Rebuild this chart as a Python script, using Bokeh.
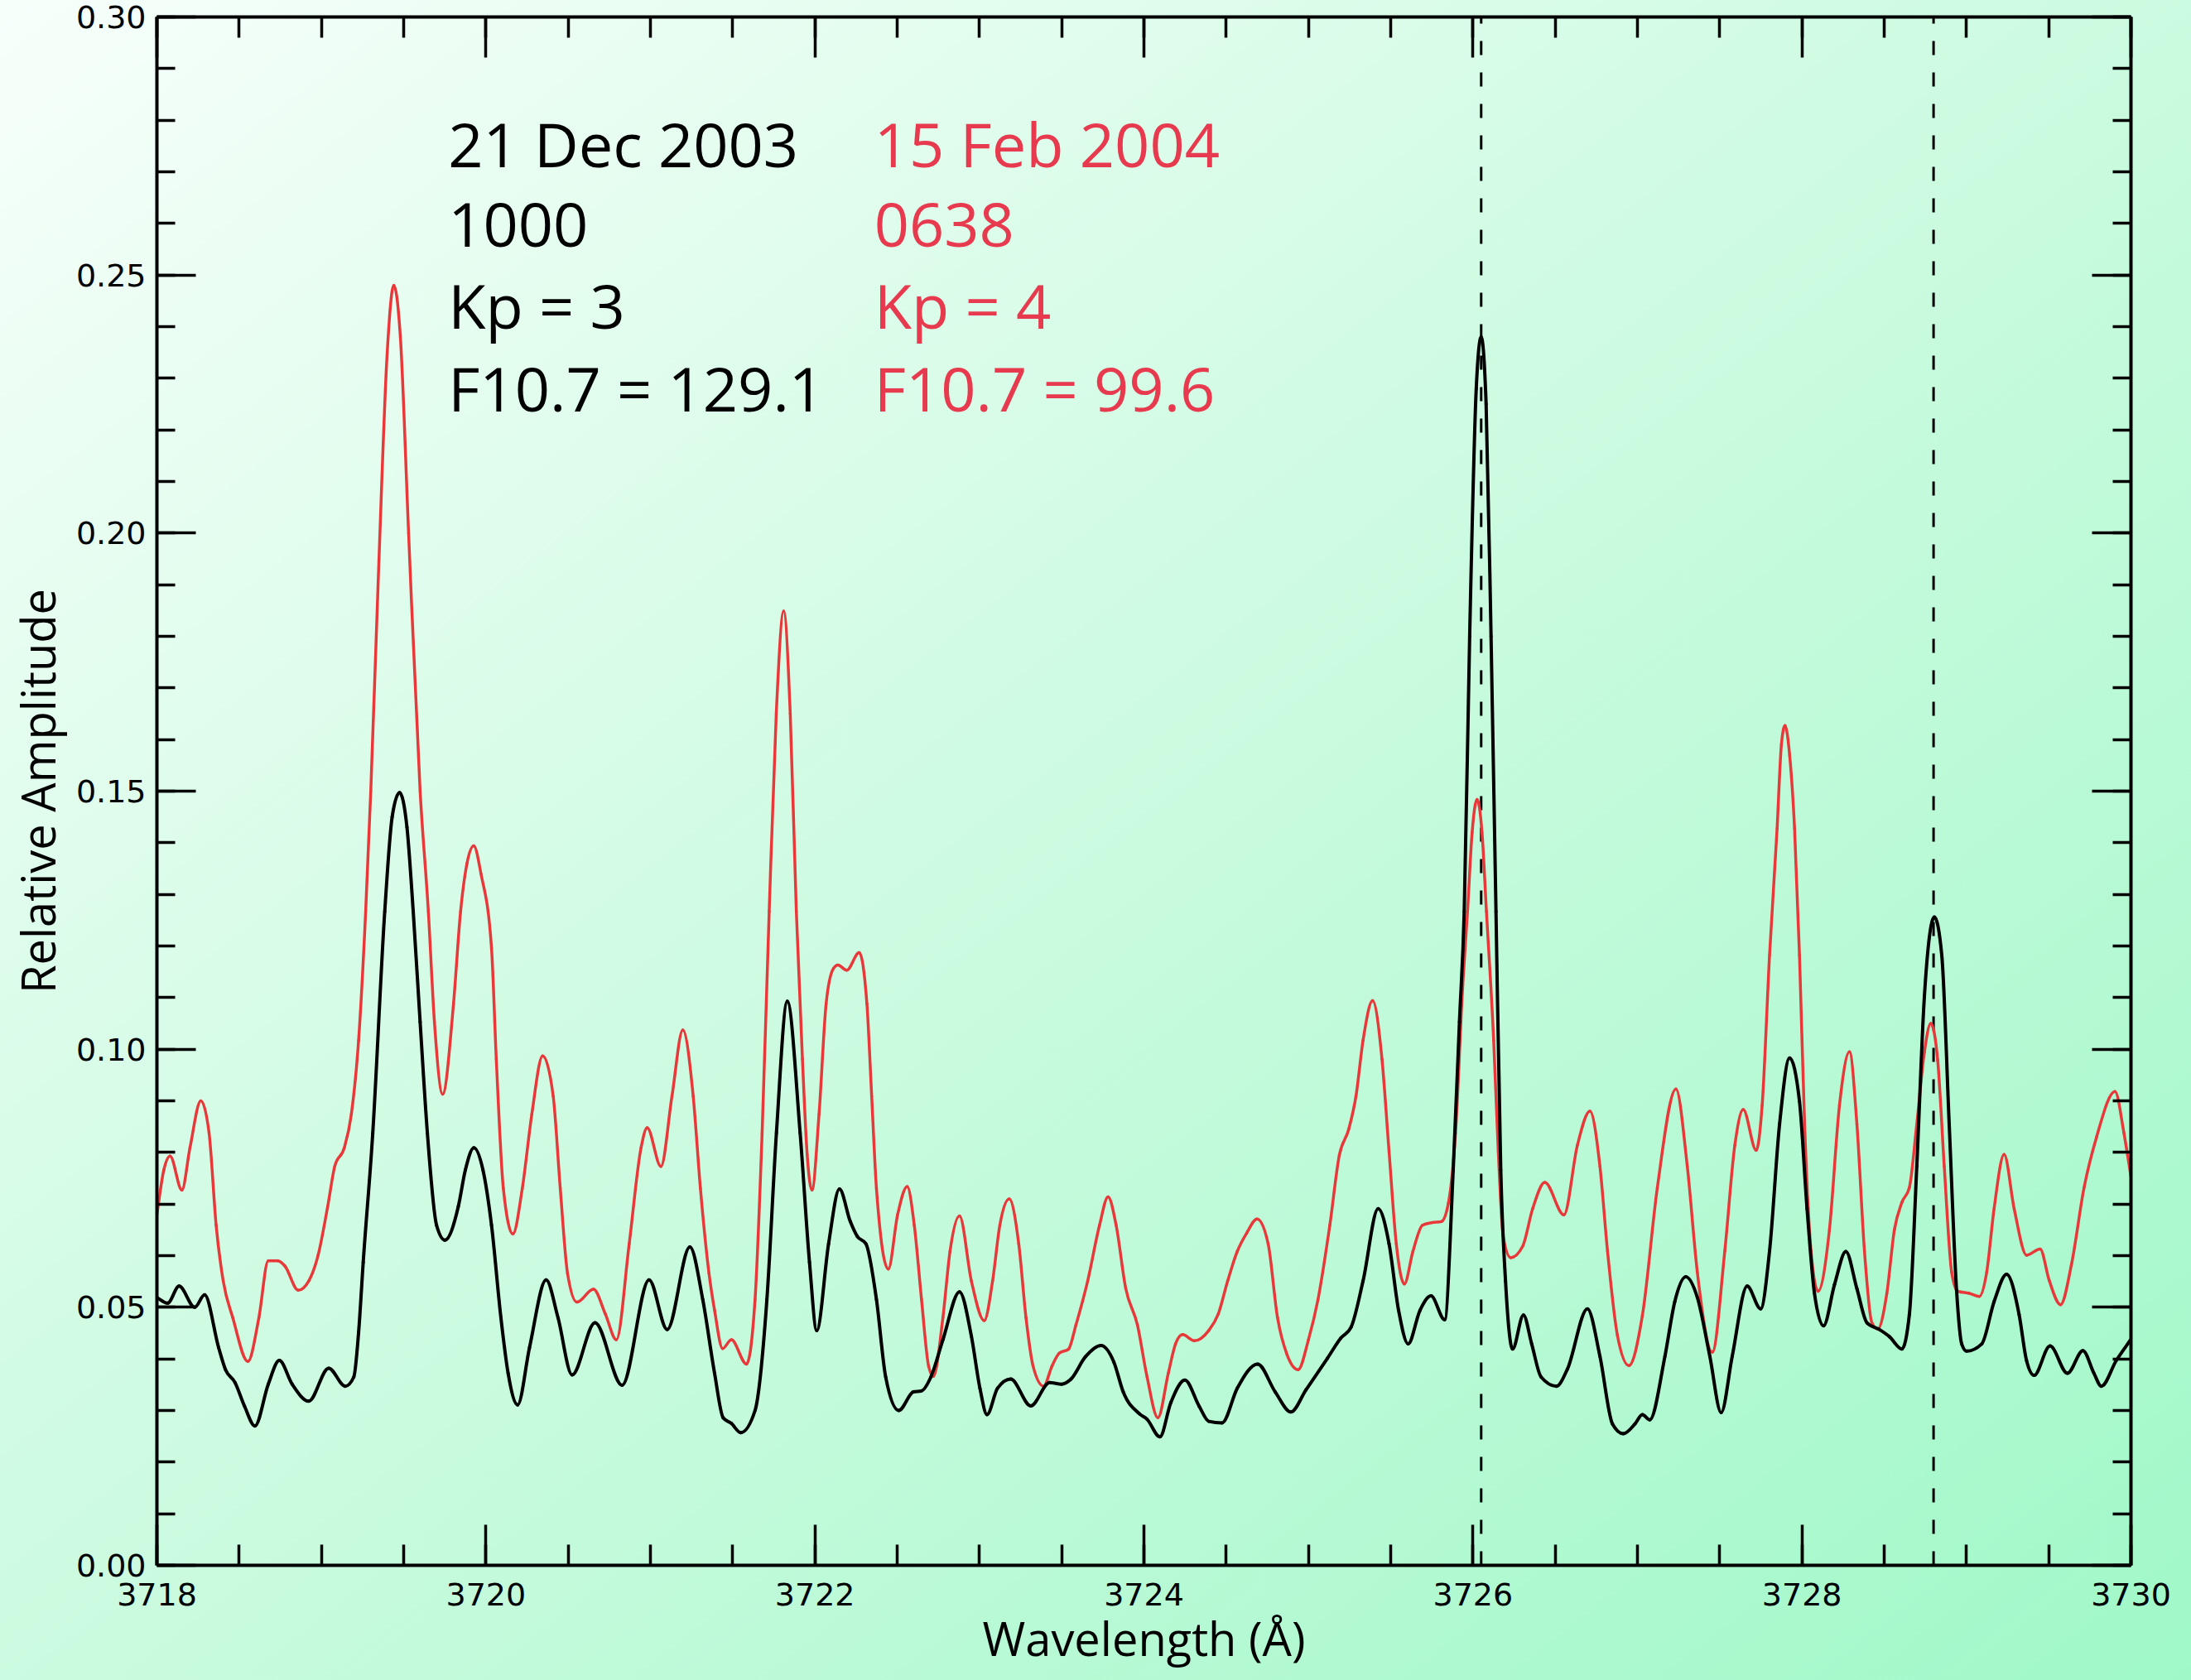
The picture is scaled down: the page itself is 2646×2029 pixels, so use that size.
from bokeh.plotting import figure
from bokeh.models import LinearAxis, Label, PrintfTickFormatter, Range1d, FixedTicker
from bokeh.embed import file_html
from bokeh.resources import INLINE

# ---------------- data ----------------
black_wl = [3718.000, 3718.065, 3718.135, 3718.230, 3718.290, 3718.375, 3718.417, 3718.475, 3718.533, 3718.596,
            3718.677, 3718.744, 3718.822, 3718.923, 3719.044, 3719.145, 3719.197, 3719.226, 3719.254, 3719.312,
            3719.385, 3719.430, 3719.475, 3719.520, 3719.558, 3719.600, 3719.644, 3719.700,
            3719.751, 3719.832, 3719.875, 3719.927, 3719.982, 3720.034, 3720.091, 3720.135, 3720.193, 3720.265,
            3720.366, 3720.438, 3720.524, 3720.663, 3720.828, 3720.992, 3721.102, 3721.240, 3721.318, 3721.390,
            3721.442, 3721.492, 3721.549, 3721.636, 3721.708, 3721.766, 3721.832, 3721.910,
            3721.967, 3722.011, 3722.083, 3722.149, 3722.215, 3722.258, 3722.310, 3722.374, 3722.430, 3722.509,
            3722.599, 3722.648, 3722.705, 3722.778, 3722.879, 3722.951, 3723.003, 3723.046, 3723.110, 3723.190,
            3723.312, 3723.427, 3723.499, 3723.557, 3723.644, 3723.739, 3723.817, 3723.874, 3723.975, 3724.019,
            3724.097, 3724.163, 3724.249, 3724.336, 3724.394, 3724.475, 3724.567, 3724.691, 3724.798, 3724.893,
            3724.985, 3725.115, 3725.196, 3725.260, 3725.332, 3725.424, 3725.490, 3725.548, 3725.606, 3725.678,
            3725.745, 3725.828, 3725.880, 3725.918, 3725.947, 3725.980, 3726.020, 3726.050, 3726.080, 3726.110,
            3726.140, 3726.169, 3726.198, 3726.241, 3726.307, 3726.357, 3726.414, 3726.508, 3726.574, 3726.696,
            3726.772, 3726.848, 3726.914, 3726.985, 3727.030, 3727.075, 3727.167, 3727.227, 3727.294, 3727.364,
            3727.440, 3727.509, 3727.576, 3727.667, 3727.749, 3727.803, 3727.864, 3727.925, 3727.985, 3728.031,
            3728.076, 3728.131, 3728.198, 3728.267, 3728.334, 3728.395, 3728.470, 3728.532, 3728.607, 3728.653,
            3728.698, 3728.744, 3728.805, 3728.850, 3728.895, 3728.940, 3728.971, 3729.001, 3729.093,
            3729.168, 3729.244, 3729.320, 3729.365, 3729.411, 3729.508, 3729.614, 3729.708, 3729.775, 3729.820,
            3729.911, 3730.000]
black_amp = [0.0519, 0.0508, 0.0541, 0.0500, 0.0524, 0.0422, 0.0379, 0.0354, 0.0308, 0.0270,
             0.0351, 0.0397, 0.0351, 0.0318, 0.0382, 0.0347, 0.0365, 0.0451, 0.0587, 0.0837,
             0.1267, 0.1450, 0.1497, 0.1430, 0.1267, 0.1053, 0.0838, 0.0659,
             0.0630, 0.0695, 0.0766, 0.0809, 0.0766, 0.0659, 0.0480, 0.0372, 0.0311, 0.0422,
             0.0553, 0.0480, 0.0369, 0.0470, 0.0349, 0.0553, 0.0457, 0.0617, 0.0515, 0.0372,
             0.0286, 0.0275, 0.0257, 0.0300, 0.0515, 0.0838, 0.1093, 0.0838,
             0.0587, 0.0455, 0.0623, 0.0729, 0.0666, 0.0637, 0.0623, 0.0515, 0.0365, 0.0300,
             0.0336, 0.0338, 0.0365, 0.0437, 0.0530, 0.0444, 0.0343, 0.0292, 0.0343, 0.0361,
             0.0309, 0.0354, 0.0351, 0.0361, 0.0404, 0.0426, 0.0394, 0.0336, 0.0293, 0.0283,
             0.0249, 0.0315, 0.0359, 0.0308, 0.0279, 0.0276, 0.0343, 0.0390, 0.0336, 0.0297,
             0.0340, 0.0401, 0.0440, 0.0462, 0.0551, 0.0691, 0.0623, 0.0494, 0.0429, 0.0494,
             0.0522, 0.0476, 0.0766, 0.1053, 0.1267, 0.1800, 0.2280, 0.2380, 0.2250, 0.1800,
             0.1267, 0.0766, 0.0551, 0.0419, 0.0485, 0.0429, 0.0365, 0.0347, 0.0380, 0.0497,
             0.0405, 0.0274, 0.0255, 0.0274, 0.0292, 0.0282, 0.0405, 0.0511, 0.0559, 0.0519,
             0.0405, 0.0296, 0.0405, 0.0541, 0.0497, 0.0609, 0.0855, 0.0983, 0.0899, 0.0691,
             0.0527, 0.0464, 0.0544, 0.0608, 0.0536, 0.0470, 0.0457, 0.0443, 0.0419, 0.0486,
             0.0773, 0.1101, 0.1256, 0.1182, 0.0855, 0.0532, 0.0429, 0.0415, 0.0429,
             0.0511, 0.0564, 0.0486, 0.0397, 0.0368, 0.0425, 0.0372, 0.0416, 0.0372, 0.0347,
             0.0397, 0.0438]

red_wl = [3718.000, 3718.042, 3718.080, 3718.152, 3718.201, 3718.267, 3718.317, 3718.360, 3718.403, 3718.461,
          3718.553, 3718.620, 3718.677, 3718.735, 3718.778, 3718.859, 3718.923, 3718.980, 3719.038, 3719.081,
          3719.139, 3719.182, 3719.226, 3719.269, 3719.300, 3719.350, 3719.400, 3719.440, 3719.480, 3719.530,
          3719.600, 3719.650, 3719.687, 3719.737, 3719.803, 3719.846, 3719.885, 3719.926, 3719.970, 3720.034,
          3720.063, 3720.106, 3720.164, 3720.221, 3720.279, 3720.345, 3720.409, 3720.452, 3720.496, 3720.553,
          3720.654, 3720.726, 3720.793, 3720.871, 3720.943, 3720.980, 3721.064, 3721.131, 3721.197, 3721.260,
          3721.304, 3721.356, 3721.390, 3721.439, 3721.492, 3721.584, 3721.636, 3721.679, 3721.722, 3721.765,
          3721.810, 3721.850, 3721.887, 3721.924, 3721.953, 3721.982, 3722.025, 3722.068, 3722.112, 3722.140,
          3722.193, 3722.269, 3722.316, 3722.345, 3722.374, 3722.446, 3722.503, 3722.561, 3722.604, 3722.648,
          3722.691, 3722.720, 3722.778, 3722.821, 3722.879, 3722.951, 3723.029, 3723.080, 3723.124, 3723.181,
          3723.239, 3723.283, 3723.326, 3723.390, 3723.441, 3723.485, 3723.542, 3723.586, 3723.658, 3723.730,
          3723.782, 3723.831, 3723.889, 3723.961, 3724.019, 3724.085, 3724.148, 3724.192, 3724.235, 3724.307,
          3724.394, 3724.452, 3724.509, 3724.567, 3724.625, 3724.688, 3724.755, 3724.812, 3724.870, 3724.937,
          3725.000, 3725.058, 3725.130, 3725.188, 3725.245, 3725.289, 3725.332, 3725.390, 3725.447, 3725.490,
          3725.534, 3725.583, 3725.635, 3725.693, 3725.750, 3725.808, 3725.851, 3725.894, 3725.938, 3725.967,
          3725.995, 3726.025, 3726.055, 3726.082, 3726.126, 3726.154, 3726.184, 3726.230, 3726.302, 3726.363,
          3726.437, 3726.553, 3726.635, 3726.711, 3726.772, 3726.818, 3726.878, 3726.948, 3727.030, 3727.121,
          3727.234, 3727.303, 3727.364, 3727.455, 3727.531, 3727.592, 3727.643, 3727.722, 3727.758, 3727.803,
          3727.849, 3727.875, 3727.897, 3727.925, 3727.955, 3727.985, 3728.016, 3728.055, 3728.098, 3728.167,
          3728.228, 3728.289, 3728.334, 3728.380, 3728.425, 3728.461, 3728.516, 3728.562, 3728.607, 3728.653,
          3728.698, 3728.744, 3728.783, 3728.825, 3728.865, 3728.910, 3728.947, 3729.017, 3729.078, 3729.123,
          3729.168, 3729.229, 3729.290, 3729.366, 3729.448, 3729.503, 3729.572, 3729.639, 3729.715, 3729.791,
          3729.903, 3729.957, 3730.000]
red_amp = [0.0680, 0.0766, 0.0793, 0.0727, 0.0809, 0.0900, 0.0838, 0.0659, 0.0551, 0.0480,
           0.0395, 0.0480, 0.0590, 0.0590, 0.0580, 0.0533, 0.0551, 0.0601, 0.0695, 0.0773,
           0.0809, 0.0874, 0.1017, 0.1267, 0.1500, 0.1950, 0.2350, 0.2480, 0.2380, 0.2000,
           0.1500, 0.1267, 0.1053, 0.0913, 0.1088, 0.1267, 0.1360, 0.1394, 0.1340, 0.1196,
           0.0981, 0.0730, 0.0642, 0.0730, 0.0874, 0.0987, 0.0909, 0.0730, 0.0566, 0.0510,
           0.0535, 0.0487, 0.0437, 0.0623, 0.0809, 0.0848, 0.0773, 0.0909, 0.1037, 0.0909,
           0.0730, 0.0566, 0.0494, 0.0420, 0.0437, 0.0390, 0.0515, 0.0838, 0.1267, 0.1650,
           0.1849, 0.1650, 0.1267, 0.0981, 0.0795, 0.0727, 0.0874, 0.1088, 0.1156, 0.1163,
           0.1153, 0.1187, 0.1088, 0.0909, 0.0730, 0.0574, 0.0680, 0.0734, 0.0659, 0.0515,
           0.0386, 0.0366, 0.0480, 0.0608, 0.0677, 0.0551, 0.0474, 0.0551, 0.0659, 0.0710,
           0.0623, 0.0480, 0.0386, 0.0347, 0.0386, 0.0411, 0.0419, 0.0465, 0.0551, 0.0659,
           0.0714, 0.0659, 0.0537, 0.0465, 0.0365, 0.0286, 0.0372, 0.0429, 0.0447, 0.0435,
           0.0455, 0.0487, 0.0551, 0.0608, 0.0644, 0.0671, 0.0623, 0.0480, 0.0408, 0.0379,
           0.0437, 0.0515, 0.0659, 0.0795, 0.0845, 0.0909, 0.1017, 0.1094, 0.0981, 0.0802,
           0.0623, 0.0545, 0.0608, 0.0659, 0.0664, 0.0666, 0.0702, 0.0838, 0.1124, 0.1267,
           0.1420, 0.1484, 0.1420, 0.1267, 0.1017, 0.0802, 0.0637, 0.0596, 0.0618, 0.0691,
           0.0742, 0.0679, 0.0814, 0.0880, 0.0773, 0.0609, 0.0446, 0.0387, 0.0484, 0.0732,
           0.0923, 0.0773, 0.0568, 0.0413, 0.0609, 0.0814, 0.0883, 0.0804, 0.0891, 0.1182,
           0.1428, 0.1590, 0.1627, 0.1570, 0.1428, 0.1182, 0.0855, 0.0609, 0.0531, 0.0650,
           0.0891, 0.0995, 0.0855, 0.0609, 0.0470, 0.0458, 0.0527, 0.0650, 0.0703, 0.0732,
           0.0855, 0.0994, 0.1050, 0.0979, 0.0773, 0.0568, 0.0531, 0.0527, 0.0521, 0.0568,
           0.0691, 0.0796, 0.0691, 0.0601, 0.0613, 0.0552, 0.0505, 0.0584, 0.0732, 0.0830,
           0.0918, 0.0838, 0.0753]

line_wl = [3726.05, 3728.80]          # dashed reference lines
x_ticks = [3718, 3720, 3722, 3724, 3726, 3728, 3730]
y_ticks = [0.00, 0.05, 0.10, 0.15, 0.20, 0.25, 0.30]
x_range = (3718, 3730)
y_range = (0.0, 0.30)

left_lines = ["21 Dec 2003", "1000", "Kp = 3", "F10.7 = 129.1"]
right_lines = ["15 Feb 2004", "0638", "Kp = 4", "F10.7 = 99.6"]
line_y = [0.2755, 0.2598, 0.2441, 0.2282]
left_x = 3719.77
right_x = 3722.36

BLACK = "#000000"
RED_LINE = "#E8383A"
RED_TEXT = "#E73A4E"
TICK_FONT = "DejaVu Sans"
TICK_SIZE = "38px"


def smooth_segments(xs, ys):
    """Monotone cubic Bezier control points through the read points (drawing only)."""
    n = len(xs)
    h = [xs[i + 1] - xs[i] for i in range(n - 1)]
    s = [(ys[i + 1] - ys[i]) / h[i] for i in range(n - 1)]
    m = [0.0] * n
    m[0], m[-1] = s[0], s[-1]
    for i in range(1, n - 1):
        s0, s1 = s[i - 1], s[i]
        if s0 * s1 <= 0:
            m[i] = 0.0
        else:
            pp = (s0 * h[i] + s1 * h[i - 1]) / (h[i - 1] + h[i])
            sg = 1.0 if s0 > 0 else -1.0
            m[i] = 2 * sg * min(abs(s0), abs(s1), 0.5 * abs(pp))
    seg = dict(x0=[], y0=[], x1=[], y1=[], cx0=[], cy0=[], cx1=[], cy1=[])
    for i in range(n - 1):
        d = h[i] / 3.0
        seg["x0"].append(xs[i]); seg["y0"].append(ys[i])
        seg["x1"].append(xs[i + 1]); seg["y1"].append(ys[i + 1])
        seg["cx0"].append(xs[i] + d); seg["cy0"].append(ys[i] + m[i] * d)
        seg["cx1"].append(xs[i + 1] - d); seg["cy1"].append(ys[i + 1] - m[i + 1] * d)
    return seg


# ---------------- figure ----------------
p = figure(width=2646, height=2029, output_backend="svg", toolbar_location=None,
           x_range=Range1d(*x_range), y_range=Range1d(*y_range),
           min_border_left=189, min_border_right=73, min_border_top=20, min_border_bottom=139,
           styles={"background": "linear-gradient(to bottom right, #F7FFFB 0%, #CFFBE2 45%, #A0F8C8 100%)"})
p.background_fill_alpha = 0
p.border_fill_alpha = 0
p.outline_line_color = None
p.grid.visible = False

xt = FixedTicker(ticks=x_ticks, minor_ticks=[x_ticks[0] + 0.5 * k for k in range(25)])
yt = FixedTicker(ticks=y_ticks, minor_ticks=[round(0.01 * k, 2) for k in range(31)])


def style_axis(ax, major_len, minor_len):
    ax.axis_line_width = 4
    ax.axis_line_color = BLACK
    ax.major_tick_line_width = 3.5
    ax.minor_tick_line_width = 3.5
    ax.major_tick_in = major_len
    ax.major_tick_out = 0
    ax.minor_tick_in = minor_len
    ax.minor_tick_out = 0
    ax.major_label_text_font = TICK_FONT
    ax.major_label_text_font_size = TICK_SIZE
    ax.major_label_text_color = BLACK
    ax.axis_label_text_font = "Open Sans"
    ax.axis_label_text_font_size = "56px"
    ax.axis_label_text_font_style = "normal"
    ax.axis_label_text_color = BLACK


xa = p.xaxis[0]
xa.ticker = xt
style_axis(xa, 49, 25)
xa.major_label_standoff = 21
xa.axis_label = "Wavelength (Å)"
xa.axis_label_standoff = -2

ya = p.yaxis[0]
ya.ticker = yt
style_axis(ya, 47, 22)
ya.formatter = PrintfTickFormatter(format="%.2f")
ya.major_label_standoff = 13
ya.axis_label = "Relative Amplitude"
ya.axis_label_standoff = 6

top = LinearAxis(ticker=xt)
style_axis(top, 49, 25)
top.major_label_text_font_size = "1px"
top.major_label_text_color = None
top.major_label_standoff = 0
p.add_layout(top, "above")

right = LinearAxis(ticker=yt)
style_axis(right, 47, 22)
right.major_label_text_font_size = "1px"
right.major_label_text_color = None
right.major_label_standoff = 0
p.add_layout(right, "right")

# dashed reference lines
p.segment(x0=line_wl, x1=line_wl, y0=[y_range[0]] * len(line_wl), y1=[y_range[1]] * len(line_wl),
          line_color=BLACK, line_width=3, line_dash="17 21")

# spectra (smooth curves through the read points)
rs = smooth_segments(red_wl, red_amp)
p.bezier(x0=rs["x0"], y0=rs["y0"], x1=rs["x1"], y1=rs["y1"], cx0=rs["cx0"], cy0=rs["cy0"],
         cx1=rs["cx1"], cy1=rs["cy1"], line_color=RED_LINE, line_width=3.5, line_cap="round")
bs = smooth_segments(black_wl, black_amp)
p.bezier(x0=bs["x0"], y0=bs["y0"], x1=bs["x1"], y1=bs["y1"], cx0=bs["cx0"], cy0=bs["cy0"],
         cx1=bs["cx1"], cy1=bs["cy1"], line_color=BLACK, line_width=4, line_cap="round")

# annotation text
for txt, yy in zip(left_lines, line_y):
    p.add_layout(Label(x=left_x, y=yy, text=txt, text_font="Open Sans", text_font_size="74px",
                       text_color=BLACK, text_baseline="alphabetic", text_align="left"))
for txt, yy in zip(right_lines, line_y):
    p.add_layout(Label(x=right_x, y=yy, text=txt, text_font="Open Sans", text_font_size="74px",
                       text_color=RED_TEXT, text_baseline="alphabetic", text_align="left"))

open("out.html", "w").write(file_html(p, INLINE))
